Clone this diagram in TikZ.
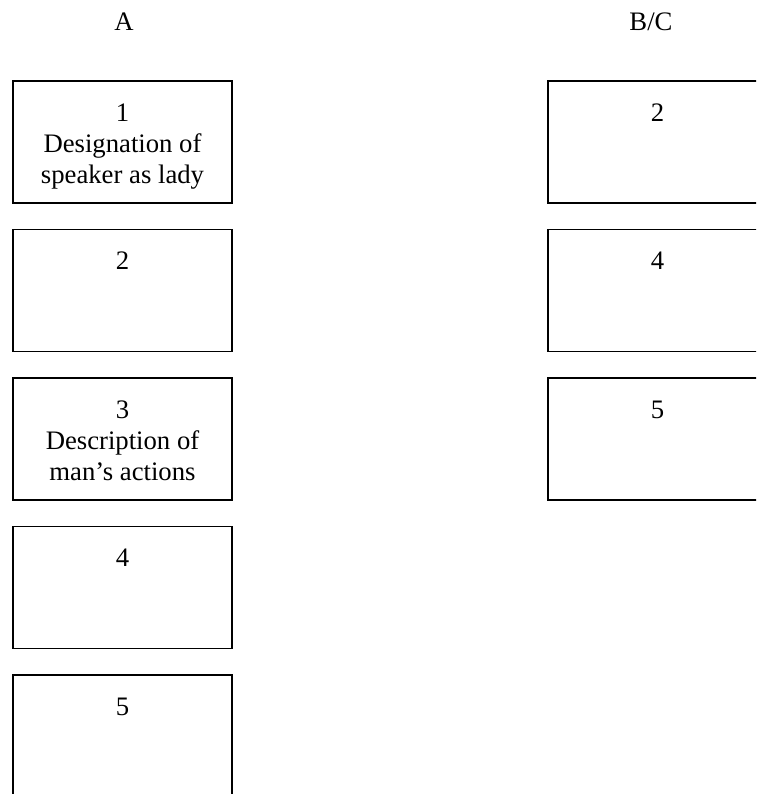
\documentclass[tikz,border=0pt]{standalone}
\usepackage{fontspec}
\setmainfont{Liberation Serif}
\usepackage{tikz}
\usetikzlibrary{positioning}
\tikzstyle{slot} = [rectangle, minimum width=219pt, minimum height=122pt, draw=black, line width=1.6pt, inner sep=0pt]
\tikzstyle{slottext} = [anchor=base, align=center, inner sep=0pt]
\tikzstyle{head} = [anchor=base, inner sep=0pt]

\begin{document}
\begin{tikzpicture}[node distance=148.5pt, font=\fontsize{26.7pt}{31pt}\selectfont]
        \useasboundingbox (0pt,0pt) rectangle (756pt,-794pt);
        \clip (0pt,0pt) rectangle (756pt,-794pt);

        % Headings
        \node (headA) [head] at (124pt,-31pt) {A};
        \node (headBC) [head] at (651pt,-31pt) {B/C};

        % Column A
        \node (a1) [slot] at (122.5pt,-142pt) {};
        \node (a2) [slot, below of=a1] {};
        \node (a3) [slot, below of=a2] {};
        \node (a4) [slot, below of=a3] {};
        \node (a5) [slot, below of=a4] {};

        % Column B/C
        \node (b2) [slot] at (657.5pt,-142pt) {};
        \node (b4) [slot, below of=b2] {};
        \node (b5) [slot, below of=b4] {};

        % Texts (base = last line)
        \node (ta1) [slottext] at ([yshift=-103pt]a1.north) {1\\Designation of\\speaker as lady};
        \node (ta2) [slottext] at ([yshift=-41pt]a2.north) {2};
        \node (ta3) [slottext] at ([yshift=-103pt]a3.north) {3\\Description of\\man’s actions};
        \node (ta4) [slottext] at ([yshift=-41pt]a4.north) {4};
        \node (ta5) [slottext] at ([yshift=-41pt]a5.north) {5};
        \node (tb2) [slottext] at ([yshift=-41pt]b2.north) {2};
        \node (tb4) [slottext] at ([yshift=-41pt]b4.north) {4};
        \node (tb5) [slottext] at ([yshift=-41pt]b5.north) {5};

    \end{tikzpicture}
\end{document}
